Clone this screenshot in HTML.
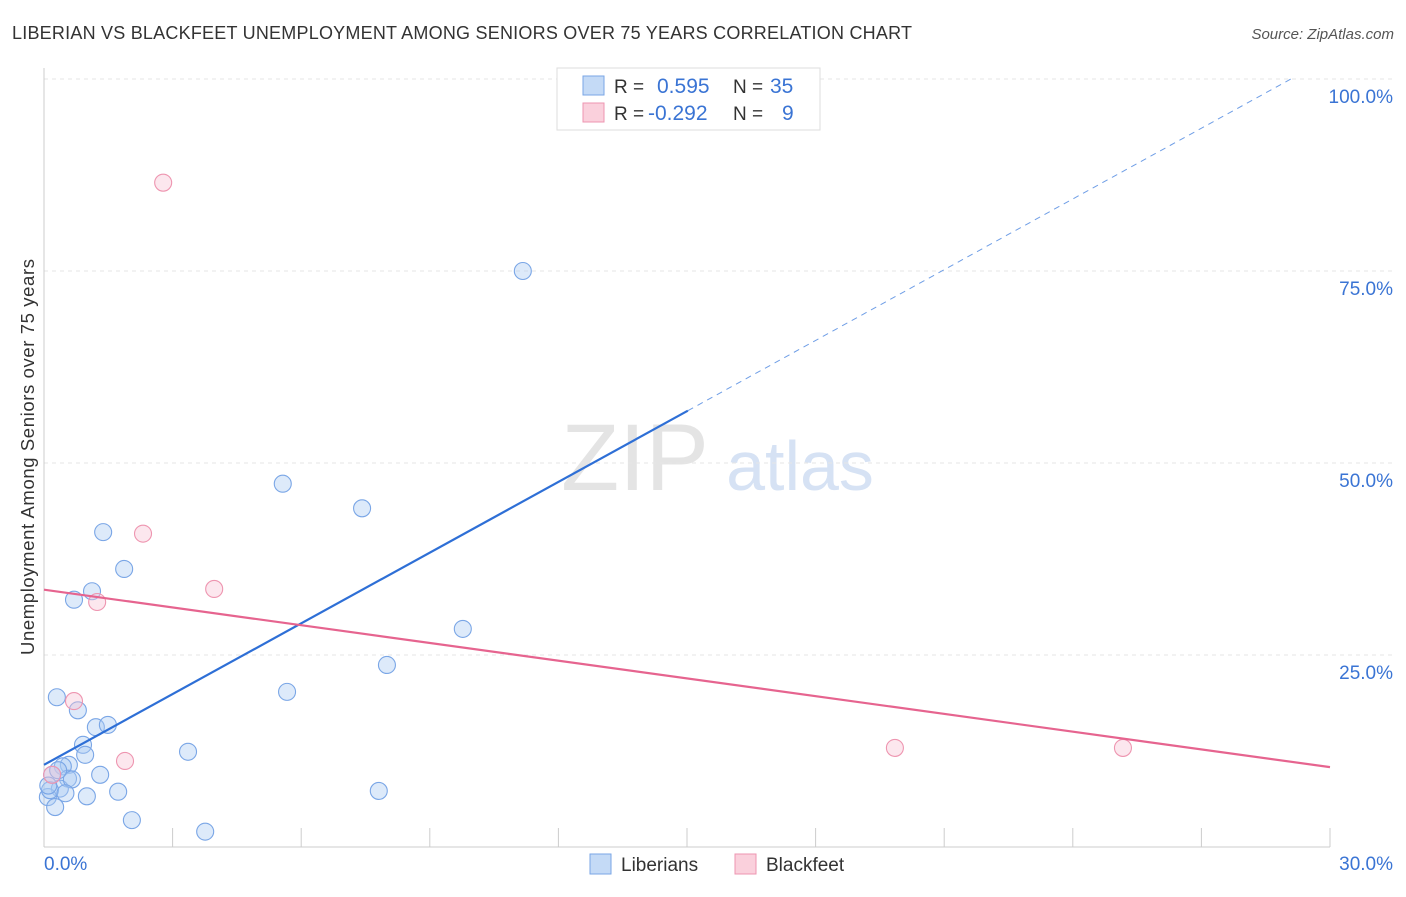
<!DOCTYPE html>
<html><head><meta charset="utf-8">
<style>
body{margin:0;background:#fff;font-family:"Liberation Sans",sans-serif;}
svg text{font-family:"Liberation Sans",sans-serif;}
</style></head>
<body>
<svg id="chart" width="1406" height="892" xmlns="http://www.w3.org/2000/svg">
<text x="12" y="39" font-size="18" fill="#333" textLength="900">LIBERIAN VS BLACKFEET UNEMPLOYMENT AMONG SENIORS OVER 75 YEARS CORRELATION CHART</text>
<text x="1394" y="39" font-size="15" fill="#555" text-anchor="end" font-style="italic">Source: ZipAtlas.com</text>
<text x="635" y="490" font-size="95" fill="#e4e4e4" font-family="Liberation Serif" text-anchor="middle">ZIP</text>
<text x="800" y="490" font-size="70" fill="#d6e2f4" text-anchor="middle">atlas</text>
<text transform="translate(34,457) rotate(-90)" font-size="18.5" fill="#333" text-anchor="middle" textLength="396">Unemployment Among Seniors over 75 years</text>
<g id="grid"></g><g id="marks"></g>
<g>
<rect x="557" y="68" width="263" height="62" fill="#fff" stroke="#ddd"/>
<rect x="583" y="76" width="21" height="19" fill="#c4daf6" stroke="#7aa6e6"/>
<rect x="583" y="103" width="21" height="19" fill="#fad0dc" stroke="#ee95b0"/>
<text x="614" y="93" font-size="19" fill="#333">R = <tspan fill="#3a74d4" x="657" font-size="21">0.595</tspan><tspan x="733" fill="#333">N = </tspan><tspan fill="#3a74d4" x="770" font-size="21">35</tspan></text>
<text x="614" y="120" font-size="19" fill="#333">R = <tspan fill="#3a74d4" x="648" font-size="21">-0.292</tspan><tspan x="733" fill="#333">N = </tspan><tspan fill="#3a74d4" x="782" font-size="21">9</tspan></text>
</g>
<g>
<rect x="590" y="854" width="21" height="20" fill="#c4daf6" stroke="#7aa6e6"/>
<text x="621" y="871" font-size="19" fill="#333">Liberians</text>
<rect x="735" y="854" width="21" height="20" fill="#fad0dc" stroke="#ee95b0"/>
<text x="766" y="871" font-size="19" fill="#333">Blackfeet</text>
</g>
</svg>
<script>
const yTicks=[25,50,75,100];
const yTickLabels=["25.0%","50.0%","75.0%","100.0%"];
const xTicks=[0,3,6,9,12,15,18,21,24,27,30];
const libX=[11.17,5.57,7.42,1.38,1.87,1.12,0.70,9.77,8.0,5.67,0.30,0.79,1.21,1.49,0.91,0.96,3.36,0.58,0.44,1.31,0.56,0.19,0.37,1.73,7.81,1.0,0.09,0.26,2.05,3.76,0.14,0.65,0.33,0.1,0.5];
const libY=[75.0,47.3,44.1,41.0,36.2,33.3,32.2,28.4,23.7,20.2,19.5,17.8,15.6,15.9,13.3,12.0,12.4,10.7,10.5,9.4,8.9,9.4,7.6,7.2,7.3,6.6,6.5,5.2,3.5,2.0,7.4,8.8,10.0,8.0,7.0];
const blkX=[2.78,2.31,3.97,1.24,0.70,1.89,19.85,25.17,0.19];
const blkY=[86.5,40.8,33.6,31.9,19.0,11.2,12.9,12.9,9.4];
const libTrend=[10.7,3.07];
const blkTrend=[33.5,-0.77];
const X0=44,X1=1330,Y0=847,Y100=79;
const sx=v=>X0+(X1-X0)*v/30, sy=v=>Y0-(Y0-Y100)*v/100;
const NS="http://www.w3.org/2000/svg";
function mk(t,a,p){const e=document.createElementNS(NS,t);for(const k in a)e.setAttribute(k,a[k]);p.appendChild(e);return e;}
const g=document.getElementById('grid'),m=document.getElementById('marks');
yTicks.forEach((t,i)=>{
 const l=mk('line',{x1:X0,x2:1394,y1:sy(t),y2:sy(t),stroke:'#e6e6e6','stroke-dasharray':'4,4'},g);
 
 
 const tx=mk('text',{x:1393,y:sy(t)+24,'font-size':19,fill:'#3a74d4','text-anchor':'end'},g);tx.textContent=yTickLabels[i];
 
 
});
mk('line',{x1:X0,x2:X0,y1:68,y2:Y0,stroke:'#ccc'},g);
mk('line',{x1:X0,x2:X1,y1:Y0,y2:Y0,stroke:'#ccc'},g);
xTicks.forEach(t=>{const l=mk('line',{x1:sx(t),x2:sx(t),y1:828,y2:Y0,stroke:'#ccc'},g);
 
 });
let a=mk('text',{x:44,y:870,'font-size':19,fill:'#3a74d4'},g);a.textContent="0.0%";


a=mk('text',{x:1393,y:870,'font-size':19,fill:'#3a74d4','text-anchor':'end'},g);a.textContent="30.0%";


libX.forEach((x,i)=>{const c=mk('circle',{cx:sx(x),cy:sy(libY[i]),r:8.5,fill:'rgba(170,202,242,0.4)',stroke:'#7aa6e6','stroke-width':1.1},m);
 
 });
blkX.forEach((x,i)=>{const c=mk('circle',{cx:sx(x),cy:sy(blkY[i]),r:8.5,fill:'rgba(248,195,212,0.4)',stroke:'#ee95b0','stroke-width':1.1},m);
 
 });
const xs=15.02, xe=(100-libTrend[0])/libTrend[1];
let l=mk('line',{x1:sx(0),y1:sy(libTrend[0]),x2:sx(xs),y2:sy(libTrend[0]+libTrend[1]*xs),stroke:'#2e6fd6','stroke-width':2.2},m);


l=mk('line',{x1:sx(xs),y1:sy(libTrend[0]+libTrend[1]*xs),x2:sx(xe),y2:sy(100),stroke:'#6f9ee6','stroke-width':1,'stroke-dasharray':'6,5'},m);


l=mk('line',{x1:sx(0),y1:sy(blkTrend[0]),x2:sx(30),y2:sy(blkTrend[0]+blkTrend[1]*30),stroke:'#e6648f','stroke-width':2.2},m);


</script>
</body></html>
